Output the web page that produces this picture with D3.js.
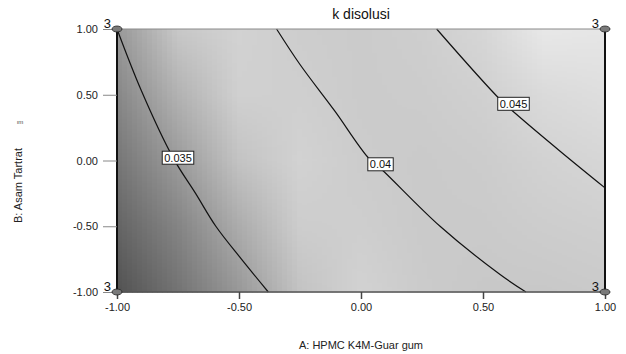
<!DOCTYPE html>
<html>
<head>
<meta charset="utf-8">
<script src="https://cdn.jsdelivr.net/npm/d3@7"></script>
<style>
  body { margin: 0; background: #fff; }
  text { font-family: "Liberation Sans", Arial, sans-serif; }
</style>
</head>
<body>
<svg id="chart" width="626" height="354"></svg>
<script>
// factor levels (coded)
var aTicks = [-1, -0.5, 0, 0.5, 1];
var bTicks = [1, 0.5, 0, -0.5, -1];

// grey shading of the surface (rows = B, cols = A)
var shadeA = [-1, -0.75, -0.5, -0.25, 0, 0.25, 0.5, 0.75, 1];
var shadeB = [1, 0.5, 0, -0.5, -1];
var shade = [
    [152, 200, 210, 205, 203, 206, 214, 232, 230],
    [135, 178, 208, 207, 203, 204, 208, 218, 222],
    [118, 155, 195, 210, 204, 202, 204, 210, 214],
    [100, 132, 172, 205, 206, 202, 202, 205, 207],
    [82, 115, 152, 195, 210, 203, 200, 200, 202]
];

// contour lines (A, B)
var contourLevels = ["0.035", "0.04", "0.045"];
var contourPts = [
    [[-1.0, 1.0], [-0.9, 0.53], [-0.77, 0.02], [-0.678, -0.25], [-0.595, -0.5], [-0.49, -0.75], [-0.38, -1.0]],
    [[-0.346, 1.0], [-0.25, 0.73], [-0.107, 0.375], [0.029, 0.023], [0.085, -0.068], [0.324, -0.5], [0.57, -0.867], [0.676, -1.0]],
    [[0.31, 1.0], [0.57, 0.464], [0.638, 0.35], [0.816, 0.071], [1.0, -0.208]]
];
var labelPos = [[-0.75, 0.02], [0.08, -0.03], [0.625, 0.43]];

// design points (corners) with replicate count
var designPts = [[-1, 1], [1, 1], [-1, -1], [1, -1]];
var designCount = ["3", "3", "3", "3"];

var svg = d3.select("#chart");
var margin = {left: 117, right: 21, top: 29, bottom: 62};
var width = 626, height = 354;

var x = d3.scaleLinear().domain([-1, 1]).range([margin.left, width - margin.right]);
var y = d3.scaleLinear().domain([-1, 1]).range([height - margin.bottom, margin.top]);

// shading
var rowScales = shade.map(function(r) {
    return d3.scaleLinear().domain(shadeA).range(r);
});
var cellW = 5, cellH = 2;
var cells = [];
for (var px = x(-1); px < x(1); px += cellW) {
    for (var py = y(1); py < y(-1); py += cellH) {
        var a = x.invert(Math.min(px + cellW / 2, x(1)));
        var b = y.invert(Math.min(py + cellH / 2, y(-1)));
        var col = rowScales.map(function(s) { return s(a); });
        var g = Math.round(d3.scaleLinear().domain(shadeB).range(col)(b));
        cells.push({x: px, y: py, w: Math.min(cellW, x(1) - px), h: Math.min(cellH, y(-1) - py), g: g});
    }
}
svg.append("g")
    .selectAll("rect")
    .data(cells)
    .enter()
    .append("rect")
    .attr("x", function(d) { return d.x; })
    .attr("y", function(d) { return d.y; })
    .attr("width", function(d) { return d.w + 0.6; })
    .attr("height", function(d) { return d.h + 0.6; })
    .attr("fill", function(d) { return d3.rgb(d.g, d.g, d.g); });

// contour lines
var line = d3.line()
    .x(function(d) { return x(d[0]); })
    .y(function(d) { return y(d[1]); })
    .curve(d3.curveCatmullRom);

svg.append("g")
    .selectAll("path")
    .data(contourPts)
    .enter()
    .append("path")
    .attr("d", line)
    .attr("fill", "none")
    .attr("stroke", "#111")
    .attr("stroke-width", 1.2);

// frame
svg.append("line").attr("x1", x(-1)).attr("x2", x(1)).attr("y1", y(1)).attr("y2", y(1))
    .attr("stroke", "#8a8a8a").attr("stroke-width", 1);
svg.append("line").attr("x1", x(-1)).attr("x2", x(1)).attr("y1", y(-1)).attr("y2", y(-1))
    .attr("stroke", "#555").attr("stroke-width", 1.5);
svg.append("line").attr("x1", x(-1)).attr("x2", x(-1)).attr("y1", y(1)).attr("y2", y(-1))
    .attr("stroke", "#111").attr("stroke-width", 2);
svg.append("line").attr("x1", x(1)).attr("x2", x(1)).attr("y1", y(1)).attr("y2", y(-1))
    .attr("stroke", "#111").attr("stroke-width", 2);

// contour labels
var lab = svg.append("g")
    .selectAll("g")
    .data(contourLevels)
    .enter()
    .append("g")
    .attr("transform", function(d, i) {
        return "translate(" + x(labelPos[i][0]) + "," + y(labelPos[i][1]) + ")";
    });
lab.append("text")
    .attr("text-anchor", "middle")
    .attr("dy", "0.35em")
    .attr("font-size", 11)
    .attr("fill", "#111")
    .text(function(d) { return d; })
    .each(function() {
        var bb = this.getBBox();
        d3.select(this.parentNode).insert("rect", "text")
            .attr("x", bb.x - 2)
            .attr("y", bb.y - 0.5)
            .attr("width", bb.width + 4)
            .attr("height", bb.height + 1)
            .attr("fill", "#fff")
            .attr("stroke", "#222")
            .attr("stroke-width", 1);
    });

// axes
var fmt = function(d) { return d3.format(".2f")(d).replace("\u2212", "-"); };
var xAxis = d3.axisBottom(x).tickValues(aTicks).tickFormat(fmt).tickSize(7).tickPadding(4);
var yAxis = d3.axisLeft(y).tickValues(bTicks).tickFormat(fmt).tickSize(14).tickPadding(5);

var gx = svg.append("g").attr("transform", "translate(0," + y(-1) + ")").call(xAxis);
var gy = svg.append("g").attr("transform", "translate(" + x(-1) + ",0)").call(yAxis);
[gx, gy].forEach(function(g) {
    g.select(".domain").remove();
    g.selectAll(".tick line").attr("stroke", "#444").attr("stroke-width", 1.5);
    g.selectAll(".tick text").attr("font-size", 11).attr("fill", "#222")
        .attr("font-family", "Liberation Sans, Arial, sans-serif");
});
gy.selectAll(".tick line").attr("stroke", "#888").attr("stroke-width", 1);

// design points
var dp = svg.append("g").selectAll("g")
    .data(designPts)
    .enter()
    .append("g")
    .attr("transform", function(d) { return "translate(" + x(d[0]) + "," + y(d[1]) + ")"; });
dp.append("ellipse")
    .attr("rx", 5).attr("ry", 3)
    .attr("fill", "#7a7a7a")
    .attr("stroke", "#222")
    .attr("stroke-width", 0.8);
dp.append("text")
    .attr("x", -6).attr("y", -1)
    .attr("text-anchor", "end")
    .attr("font-size", 13)
    .attr("fill", "#111")
    .text(function(d, i) { return designCount[i]; });

// titles
svg.append("text")
    .attr("x", x(0)).attr("y", 19)
    .attr("text-anchor", "middle")
    .attr("font-size", 14)
    .attr("fill", "#111")
    .text("k disolusi");

svg.append("text")
    .attr("x", x(0)).attr("y", 349)
    .attr("text-anchor", "middle")
    .attr("font-size", 11)
    .attr("fill", "#222")
    .text("A: HPMC K4M-Guar gum");

svg.append("text")
    .attr("transform", "translate(22," + y(-0.19) + ") rotate(-90)")
    .attr("text-anchor", "middle")
    .attr("font-size", 11)
    .attr("fill", "#222")
    .text("B: Asam Tartrat");

svg.append("text")
    .attr("x", 20).attr("y", 124)
    .attr("text-anchor", "middle")
    .attr("font-size", 6)
    .attr("fill", "#444")
    .text("ım");
</script>
</body>
</html>
